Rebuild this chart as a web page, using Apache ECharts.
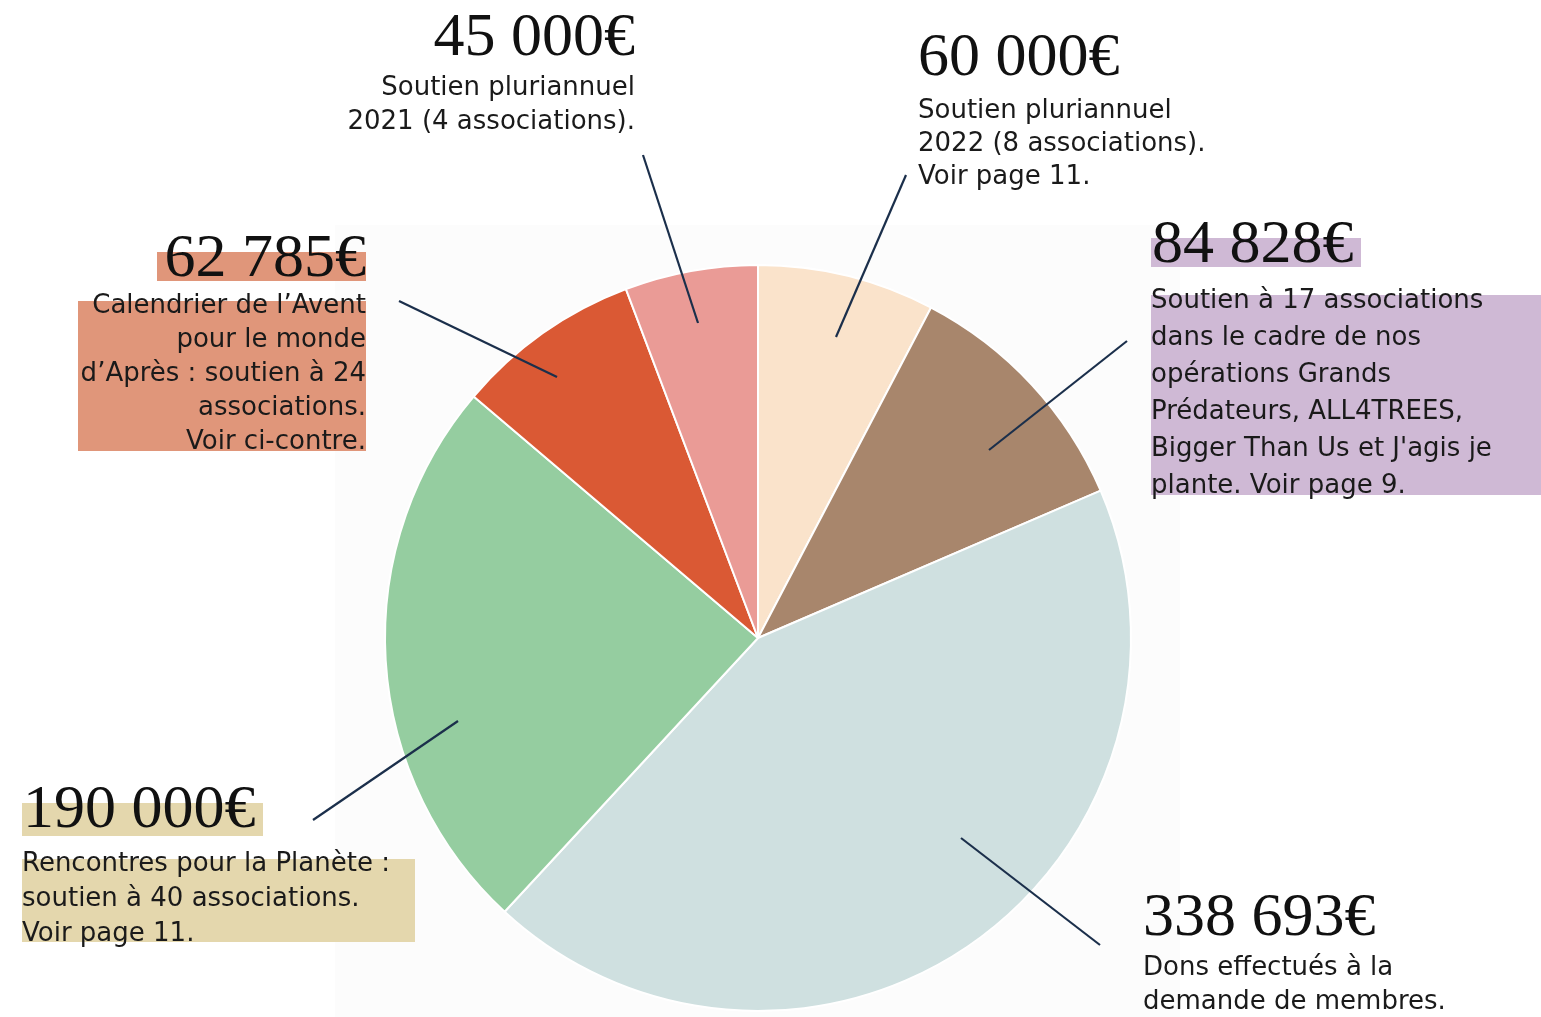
<!DOCTYPE html>
<html><head><meta charset="utf-8">
<script src="https://cdn.jsdelivr.net/npm/echarts@6/dist/echarts.min.js"></script>
<style>html,body{margin:0;padding:0;background:#fff}#c{width:1541px;height:1017px}</style>
</head><body><div id="c"></div>
<script>
const categories = ['Pluriannuel 2022','Grands Prédateurs etc.','Dons membres','Rencontres pour la Planète','Calendrier de l\'Avent','Pluriannuel 2021'];
const values = [60000, 84828, 338693, 190000, 62785, 45000];
const colors = ['#FAE3CB','#A8866C','#CFE0E0','#95CDA0','#DA5934','#EA9B96'];
const amounts = ['60 000€','84 828€','338 693€','190 000€','62 785€','45 000€'];
const descriptions = [
  'Soutien pluriannuel\n2022 (8 associations).\nVoir page 11.',
  'Soutien à 17 associations\ndans le cadre de nos\nopérations Grands\nPrédateurs, ALL4TREES,\nBigger Than Us et J\'agis je\nplante. Voir page 9.',
  'Dons effectués à la\ndemande de membres.',
  'Rencontres pour la Planète :\nsoutien à 40 associations.\nVoir page 11.',
  'Calendrier de l’Avent\npour le monde\nd’Après : soutien à 24\nassociations.\nVoir ci-contre.',
  'Soutien pluriannuel\n2021 (4 associations).'
];

const SERIF = '"Liberation Serif", "DejaVu Serif", serif';
const SANS = '"DejaVu Sans", "Noto Sans", sans-serif';
const NAVY = '#1B2F4B';

const layout = [
  {ax:918, ay:79, al:'left', dx:918, dy:95, lh:33, line:[906,175,836,337]},
  {ax:1152, ay:266, al:'left', dx:1151, dy:283, lh:37, line:[1127,341,989,450], abg:[1151,238,210,29,'#CFB9D5'], dbg:[1151,295,390,200,'#CFB9D5']},
  {ax:1143, ay:939, al:'left', dx:1143, dy:951, lh:34, line:[961,838,1100,945]},
  {ax:23, ay:831, al:'left', dx:22, dy:847, lh:35, line:[313,820,458,721], abg:[22,803,241,33,'#E4D7AD'], dbg:[22,859,393,83,'#E4D7AD']},
  {ax:366, ay:280, al:'right', dx:366, dy:289, lh:34, line:[399,301,557,377], abg:[157,252,209,29,'#E0967A'], dbg:[78,301,288,150,'#E0967A']},
  {ax:635, ay:59, al:'right', dx:635, dy:71, lh:34, line:[643,155,698,323]}
];

const graphics = [
  {type:'rect', z:-10, shape:{x:335,y:225,width:845,height:792}, style:{fill:'#fcfcfc'}, silent:true}
];
layout.forEach((L,i)=>{
  if (L.abg) graphics.push({type:'rect', z:1, shape:{x:L.abg[0],y:L.abg[1],width:L.abg[2],height:L.abg[3]}, style:{fill:L.abg[4]}});
  if (L.dbg) graphics.push({type:'rect', z:1, shape:{x:L.dbg[0],y:L.dbg[1],width:L.dbg[2],height:L.dbg[3]}, style:{fill:L.dbg[4]}});
  graphics.push({type:'text', z:5, style:{text:amounts[i], x:L.ax, y:L.ay - 20, textAlign:L.al, textVerticalAlign:'middle', font:'400 62px ' + SERIF, fill:'#111'}});
  graphics.push({type:'text', z:5, style:{text:descriptions[i], x:L.dx, y:L.dy, textAlign:L.al, textVerticalAlign:'top', font:'400 26px ' + SANS, lineHeight:L.lh, fill:'#1a1a1a'}});
  graphics.push({type:'line', z:20, shape:{x1:L.line[0],y1:L.line[1],x2:L.line[2],y2:L.line[3]}, style:{stroke:NAVY, lineWidth:2.2}});
});

const chart = echarts.init(document.getElementById('c'), null, {renderer:'canvas'});
chart.setOption({
  animation:false,
  backgroundColor:'#ffffff',
  series:[{
    type:'pie',
    center:[758,638],
    radius:[0,373],
    startAngle:90,
    clockwise:true,
    z:2,
    label:{show:false},
    labelLine:{show:false},
    itemStyle:{borderColor:'#ffffff', borderWidth:2},
    data: categories.map((c,i)=>({name:c, value:values[i], itemStyle:{color:colors[i]}}))
  }],
  graphic: graphics
});
</script></body></html>
